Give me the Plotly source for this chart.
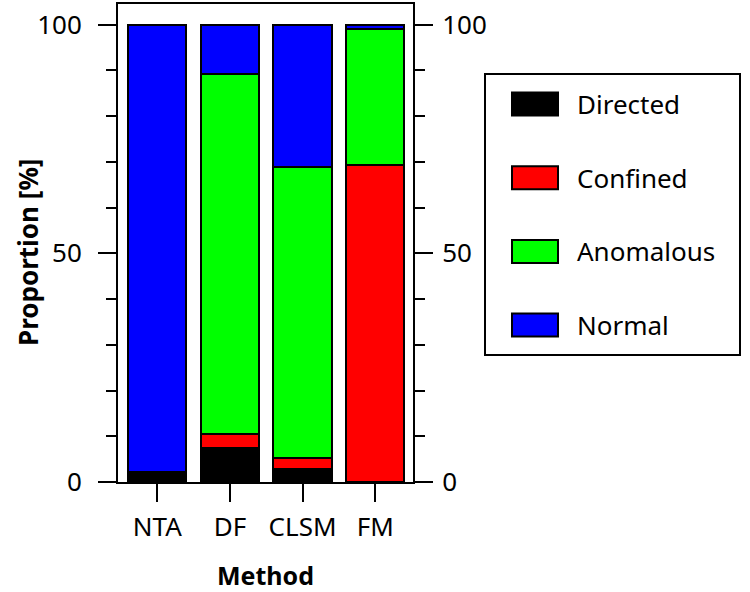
import plotly.graph_objects as go

# ---- data ----
methods = ["NTA", "DF", "CLSM", "FM"]
directed = [2.1, 7.5, 2.8, 0.0]
confined = [0.0, 3.1, 2.4, 69.3]
anomalous = [0.0, 78.5, 63.6, 29.7]
normal = [97.9, 10.9, 31.2, 1.0]
series_names = ["Directed", "Confined", "Anomalous", "Normal"]
series_colors = ["#000000", "#ff0000", "#00ff00", "#0000ff"]
y_ticks = [0, 50, 100]

# ---- layout geometry (pixels) ----
W, H = 750, 592
L, R, T, B = 118, 413, 4, 482
FONT = "Noto Sans"


def px_x(px):
    return (px - L) / (R - L)


def px_y(py):
    return (B - py) / (B - T)


fig = go.Figure()
for name, vals, col in zip(series_names, [directed, confined, anomalous, normal], series_colors):
    fig.add_trace(go.Bar(
        x=methods, y=vals, name=name, showlegend=False,
        marker=dict(color=col, line=dict(color="black", width=2)),
    ))
# empty helper trace so the right-hand axis is drawn
fig.add_trace(go.Scatter(x=methods, y=[None] * len(methods), yaxis="y2",
                         mode="markers", showlegend=False, hoverinfo="skip"))

axis_common = dict(
    showline=True, linewidth=2, linecolor="black",
    ticks="outside", ticklen=18, tickwidth=2, tickcolor="black",
    showgrid=False, zeroline=False,
    tickfont=dict(family=FONT, size=26, color="black"),
)
minor = dict(dtick=10, ticklen=10, tickwidth=2, tickcolor="black", ticks="outside", showgrid=False)

fig.update_layout(
    width=W, height=H,
    margin=dict(l=L, r=W - R, t=T, b=H - B, autoexpand=False),
    paper_bgcolor="white", plot_bgcolor="white",
    barmode="stack", bargap=0.2,
    showlegend=False,
    xaxis=dict(
        **axis_common, mirror=True, range=[-0.54, 3.52],
        ticklabelstandoff=3,
        title=dict(text="<b>Method</b>", font=dict(family=FONT, size=25, color="black"), standoff=26),
    ),
    yaxis=dict(
        **axis_common, mirror=True, range=[0, 104.5],
        tickvals=y_ticks, ticklabelstandoff=11, minor=minor,
    ),
    yaxis2=dict(
        **axis_common, overlaying="y", side="right", anchor="x", range=[0, 104.5],
        tickvals=y_ticks, ticklabelstandoff=4, minor=minor,
    ),
)

annotations = [dict(xref="paper", yref="paper", x=px_x(28), y=px_y(253),
                    xanchor="center", yanchor="middle", textangle=-90, showarrow=False,
                    text="<b>Proportion [%]</b>",
                    font=dict(family=FONT, size=26, color="black"))]

# ---- custom legend (box with large swatches) ----
box = dict(x0=485, x1=740, y0=74, y1=355)
shapes = [dict(type="rect", xref="paper", yref="paper",
               x0=px_x(box["x0"]), x1=px_x(box["x1"]),
               y0=px_y(box["y1"]), y1=px_y(box["y0"]),
               line=dict(color="black", width=2), fillcolor="white", layer="below")]
first_center, step = 104, 73.7
for i, (name, col) in enumerate(zip(series_names, series_colors)):
    cy = first_center + i * step
    shapes.append(dict(type="rect", xref="paper", yref="paper",
                       x0=px_x(512), x1=px_x(558),
                       y0=px_y(cy + 11.5), y1=px_y(cy - 11.5),
                       line=dict(color="black", width=2), fillcolor=col))
    annotations.append(dict(xref="paper", yref="paper", x=px_x(575), y=px_y(cy),
                            xanchor="left", yanchor="middle", showarrow=False,
                            text=name, font=dict(family=FONT, size=26, color="black")))
fig.update_layout(shapes=shapes, annotations=annotations)

fig.write_html("out.html", config={"displayModeBar": False},
               post_script="document.body.style.margin='0';")
